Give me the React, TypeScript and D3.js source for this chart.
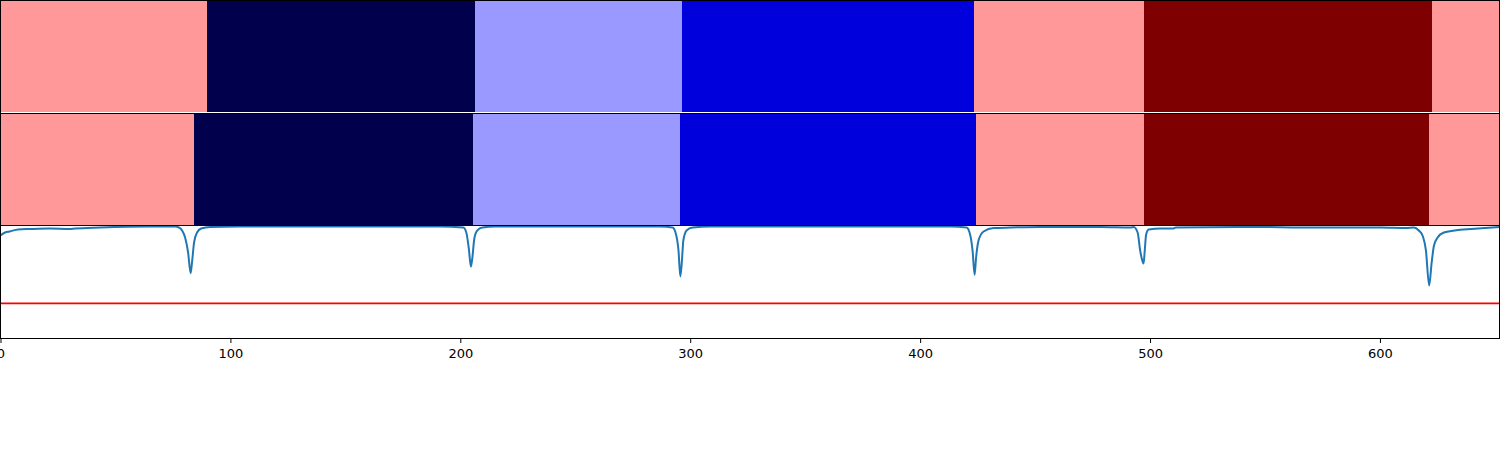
import React, { useEffect, useRef } from 'react';
import * as d3 from 'd3';

// segment labels per row, in order, and where each segment ends (x units)
const topLabels = ['C', 'A', 'B', 'D', 'C', 'E', 'C'];
const topEnds = [90, 206.5, 296.5, 423.5, 497.5, 622.5, 652];
const midLabels = ['C', 'A', 'B', 'D', 'C', 'E', 'C'];
const midEnds = [84, 205.5, 295.5, 424.5, 497.5, 621.5, 652];

const labelColors: Record<string, string> = {
  A: '#00004c',
  B: '#9999ff',
  C: '#ff9999',
  D: '#0000dc',
  E: '#7f0000',
};

// probability-like trace shown in the bottom panel
const traceX = [
  0, 2, 4, 7.6, 13, 21.5, 30, 32.4, 43.3, 65, 76, 77.7, 79, 80.3, 81.6, 82.7, 83.3, 84.2, 85.5, 87.3, 91.2, 104,
  191.3, 201.3, 202.6, 203.7, 204.6, 205.2, 206.1, 207.4, 209.6, 215.2,
  287, 292.3, 293.6, 294.9, 295.7, 296.4, 297, 298.4, 301, 308.8,
  413.2, 420.2, 421.5, 422.8, 423.7, 424.3, 425.4, 427.6, 432, 439.4, 452.4, 478.5, 491.6,
  492.9, 494.6, 495.7, 496.4, 497.2, 497.7, 498.3, 499.4, 504.6, 509.9, 511.2, 548.2, 565.6, 600.4, 611.3,
  614.8, 616.9, 618.7, 620, 621.4, 622.5, 623.5, 625.1, 627.8, 633.9, 642.6, 652,
];
const traceY = [
  0.912, 0.938, 0.947, 0.965, 0.969, 0.973, 0.969, 0.973, 0.982, 0.991, 0.991, 0.982, 0.956, 0.894, 0.761, 0.578, 0.673, 0.85, 0.938, 0.973, 0.987, 0.991,
  0.991, 0.982, 0.938, 0.796, 0.637, 0.708, 0.885, 0.956, 0.982, 0.991,
  0.991, 0.982, 0.938, 0.779, 0.549, 0.69, 0.867, 0.956, 0.982, 0.991,
  0.991, 0.982, 0.938, 0.779, 0.564, 0.708, 0.867, 0.947, 0.978, 0.982, 0.987, 0.987, 0.982,
  0.987, 0.938, 0.779, 0.708, 0.664, 0.779, 0.92, 0.965, 0.973, 0.973, 0.982, 0.987, 0.982, 0.982, 0.978,
  0.982, 0.956, 0.903, 0.779, 0.469, 0.673, 0.823, 0.894, 0.938, 0.96, 0.973, 0.987,
];
const threshold = 0.31;
const xTicks = [0, 100, 200, 300, 400, 500, 600];

const App = () => {
  const svgRef = useRef<SVGSVGElement>(null);

  useEffect(() => {
    const svg = d3.select(svgRef.current);
    svg.selectAll('*').remove();

    const left = 0.5;
    const right = 1499.5;
    const x = d3.scaleLinear().domain([0, 652]).range([left, right]);

    // panel fill areas: [top, bottom]
    const panels = [
      [1, 112],
      [114, 225],
      [226, 338],
    ];

    const drawRow = (labels: string[], ends: number[], top: number, bottom: number) => {
      const segs = labels.map((l, i) => ({ label: l, start: i === 0 ? 0 : ends[i - 1], end: ends[i] }));
      svg
        .append('g')
        .selectAll('rect')
        .data(segs)
        .enter()
        .append('rect')
        .attr('x', d => x(d.start))
        .attr('y', top)
        .attr('width', d => x(d.end) - x(d.start) + 0.3)
        .attr('height', bottom - top)
        .attr('fill', d => labelColors[d.label])
        .attr('shape-rendering', 'crispEdges');
    };

    drawRow(topLabels, topEnds, panels[0][0], panels[0][1]);
    drawRow(midLabels, midEnds, panels[1][0], panels[1][1]);

    // bottom panel
    const t3 = 225.5;
    const b3 = 338.5;
    const y = d3.scaleLinear().domain([0, 1]).range([b3, t3]);

    svg
      .append('defs')
      .append('clipPath')
      .attr('id', 'clip3')
      .append('rect')
      .attr('x', left)
      .attr('y', t3)
      .attr('width', right - left)
      .attr('height', b3 - t3);

    const g3 = svg.append('g').attr('clip-path', 'url(#clip3)');

    g3.append('line')
      .attr('x1', left)
      .attr('x2', right)
      .attr('y1', y(threshold))
      .attr('y2', y(threshold))
      .attr('stroke', '#ff0000')
      .attr('stroke-width', 1.8);

    const pts = traceX.map((v, i) => [v, traceY[i]] as [number, number]);
    const line = d3
      .line<[number, number]>()
      .x(d => x(d[0]))
      .y(d => y(d[1]))
      .curve(d3.curveMonotoneX);

    g3.append('path')
      .attr('d', line(pts))
      .attr('fill', 'none')
      .attr('stroke', '#1f77b4')
      .attr('stroke-width', 2)
      .attr('stroke-linejoin', 'round');

    // spines (half-pixel so they stay crisp)
    const hLines = [0.5, 113.5, 225.5, 338.5];
    svg
      .append('g')
      .selectAll('line')
      .data(hLines)
      .enter()
      .append('line')
      .attr('x1', 0)
      .attr('x2', 1500)
      .attr('y1', d => d)
      .attr('y2', d => d)
      .attr('stroke', '#000')
      .attr('stroke-width', 1);
    svg
      .append('g')
      .selectAll('line')
      .data([left, right])
      .enter()
      .append('line')
      .attr('x1', d => d)
      .attr('x2', d => d)
      .attr('y1', 0)
      .attr('y2', 338.5)
      .attr('stroke', '#000')
      .attr('stroke-width', 1);

    // x axis under the last panel
    const axis = svg
      .append('g')
      .attr('transform', `translate(0, ${b3})`)
      .call(d3.axisBottom(x).tickValues(xTicks).tickSize(4.5).tickPadding(6).tickFormat(d3.format('d')));
    axis.select('.domain').remove();
    axis.attr('font-family', '"DejaVu Sans", sans-serif').attr('font-size', 13);
    axis.selectAll('text').style('font-family', '"DejaVu Sans", sans-serif').style('font-size', '13px').attr('fill', '#000');
    axis.selectAll('line').attr('stroke', '#000').attr('stroke-width', 1);
  }, []);

  return (
    <svg
      ref={svgRef}
      width={1500}
      height={450}
      style={{ position: 'absolute', left: 0, top: 0, background: '#fff' }}
    ></svg>
  );
};

export default App;
